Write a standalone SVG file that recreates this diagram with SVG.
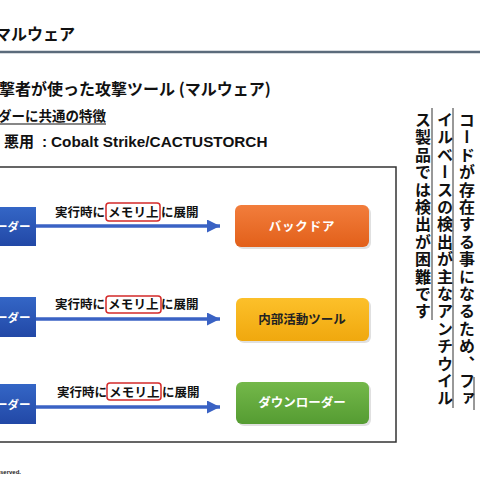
<svg xmlns="http://www.w3.org/2000/svg" width="480" height="480" viewBox="0 0 480 480">
<defs>
<style>
.jp{font-family:"Noto Sans CJK JP","Liberation Sans",sans-serif;font-weight:700}
.lat{font-family:"Liberation Sans","Noto Sans CJK JP",sans-serif;font-weight:700}
.lbl{font-size:12.5px;fill:#111}
.node{font-size:12.5px;text-anchor:middle}
.vt{font-size:16px;fill:#111;writing-mode:vertical-rl;letter-spacing:1.4px}
.conn{stroke:#3a62c4;stroke-width:3.5;fill:none}
.red{fill:none;stroke:#d42a2a;stroke-width:1.5}
.ul{stroke:#333;stroke-width:1}
</style>
<marker id="ah" markerUnits="userSpaceOnUse" markerWidth="14" markerHeight="14" refX="13" refY="6.5" orient="auto">
<path d="M0,0 L13,6.5 L0,13 z" fill="#3a62c4"/>
</marker>
<linearGradient id="gBlue" x1="0" y1="0" x2="0" y2="1"><stop offset="0" stop-color="#3466c6"/><stop offset="1" stop-color="#2248a6"/></linearGradient>
<linearGradient id="gOr" x1="0" y1="0" x2="0" y2="1"><stop offset="0" stop-color="#f27d3c"/><stop offset="1" stop-color="#e2601a"/></linearGradient>
<linearGradient id="gYe" x1="0" y1="0" x2="0" y2="1"><stop offset="0" stop-color="#fcc02a"/><stop offset="1" stop-color="#f0a80e"/></linearGradient>
<linearGradient id="gGr" x1="0" y1="0" x2="0" y2="1"><stop offset="0" stop-color="#74b84a"/><stop offset="1" stop-color="#559c32"/></linearGradient>
</defs>
<rect width="480" height="480" fill="#fff"/>

<g id="header">
<text class="jp" x="-5" y="40" font-size="16" fill="#111">マルウェア</text>
<line x1="0" y1="52" x2="480" y2="52" stroke="#5b6b7b" stroke-width="2.5"/>
</g>

<g id="bullets">
<text class="jp" x="-1" y="95" font-size="16" fill="#111">撃者が使った攻撃ツール (マルウェア)</text>
<text class="jp" x="-2" y="121" font-size="13.5" fill="#111">ダーに共通の特徴</text>
<line x1="0" y1="124" x2="106" y2="124" stroke="#111" stroke-width="1.2"/>
<text class="jp" x="4" y="147" font-size="15" fill="#111">悪用</text>
<text class="lat" x="42" y="147" font-size="15.3" fill="#111">:</text>
<text class="lat" x="51" y="147" font-size="15.3" fill="#111">Cobalt Strike/CACTUSTORCH</text>
</g>

<rect id="frame" x="-10" y="167" width="406" height="275" fill="#fff" stroke="#333" stroke-width="1.5"/>

<g id="loader1">
<rect x="-10" y="207" width="46" height="39" fill="url(#gBlue)"/>
<text class="jp" x="-4" y="231" font-size="11.5" fill="#fff">ーダー</text>
</g>
<g id="loader2">
<rect x="-10" y="297" width="46" height="40" fill="url(#gBlue)"/>
<text class="jp" x="-4" y="322" font-size="11.5" fill="#fff">ーダー</text>
</g>
<g id="loader3">
<rect x="-10" y="384" width="46" height="40" fill="url(#gBlue)"/>
<text class="jp" x="-4" y="409" font-size="11.5" fill="#fff">ーダー</text>
</g>

<g id="connectors">
<line class="conn" x1="36" y1="226" x2="220" y2="226" marker-end="url(#ah)"/>
<line class="conn" x1="36" y1="319" x2="220" y2="319" marker-end="url(#ah)"/>
<line class="conn" x1="36" y1="407" x2="220" y2="407" marker-end="url(#ah)"/>
</g>

<g id="labels">
<g>
<text class="jp lbl" x="55" y="217">実行時に</text>
<rect class="red" x="106" y="203" width="54" height="18" rx="3"/>
<text class="jp lbl" x="108" y="217" letter-spacing="0.2">メモリ上</text>
<text class="jp lbl" x="161" y="217">に展開</text>
</g>
<g>
<text class="jp lbl" x="55" y="309">実行時に</text>
<rect class="red" x="106" y="296" width="55" height="17" rx="3"/>
<text class="jp lbl" x="108" y="309" letter-spacing="0.2">メモリ上</text>
<text class="jp lbl" x="161" y="309">に展開</text>
</g>
<g>
<text class="jp lbl" x="57" y="397">実行時に</text>
<rect class="red" x="107" y="383" width="54" height="17" rx="3"/>
<text class="jp lbl" x="109" y="397" letter-spacing="0.2">メモリ上</text>
<text class="jp lbl" x="162" y="397">に展開</text>
</g>
</g>

<g id="backdoor">
<rect x="237" y="207" width="134" height="42" rx="6" fill="#000" opacity="0.12"/>
<rect x="235" y="205" width="134" height="42" rx="6" fill="url(#gOr)"/>
<text class="jp node" x="302" y="231" fill="#fff" letter-spacing="0.8">バックドア</text>
</g>
<g id="internal-tool">
<rect x="238" y="300" width="133" height="43" rx="6" fill="#000" opacity="0.12"/>
<rect x="236" y="298" width="133" height="43" rx="6" fill="url(#gYe)"/>
<text class="jp node" x="302" y="324" fill="#222">内部活動ツール</text>
</g>
<g id="downloader">
<rect x="238" y="384" width="133" height="42" rx="6" fill="#000" opacity="0.12"/>
<rect x="236" y="382" width="133" height="42" rx="6" fill="url(#gGr)"/>
<text class="jp node" x="302" y="407" fill="#fff">ダウンローダー</text>
</g>

<g id="note">
<text class="jp vt" x="467" y="112">コードが存在する事になるため、ファ</text>
<text class="jp vt" x="445" y="112">イルベースの検出が主なアンチウイル</text>
<text class="jp vt" x="423" y="112">ス製品では検出が困難です</text>
<line class="ul" x1="474" y1="377" x2="474" y2="410"/>
<line class="ul" x1="453" y1="108" x2="453" y2="408"/>
<line class="ul" x1="432" y1="108" x2="432" y2="320"/>
</g>

<text id="footer" class="lat" x="0" y="474" font-size="6" fill="#222">served.</text>
</svg>
